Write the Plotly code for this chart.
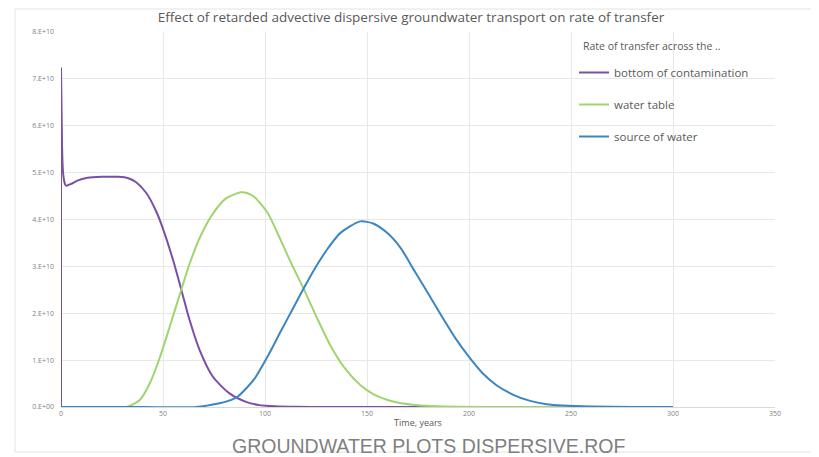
import plotly.graph_objects as go

# ---- data (rate of transfer, units of 1e10) ----
t_bottom = [0, 0, 0.5, 1, 2, 2.6, 5, 8, 13, 20, 28, 33, 37, 41.9, 46.7, 50, 54.9, 59.3, 63, 67.9,
            74.4, 82.6, 90.7, 97.2, 105, 115, 130, 160, 200, 250, 300]
v_bottom = [0, 7.24, 5.6, 5.0, 4.75, 4.72, 4.76, 4.83, 4.89, 4.91, 4.91, 4.88, 4.79, 4.56, 4.17, 3.8,
            3.14, 2.45, 1.86, 1.22, 0.65, 0.29, 0.11, 0.04, 0.015, 0.004, 0.0, 0.0, 0.0, 0.0, 0.0]

t_table = [0, 20, 32, 38.6, 43.5, 48.4, 53.2, 59.3, 63, 67.9, 74.4, 80.9, 88.3, 91.5, 94.8, 101.3, 107.8,
           112.7, 119.2, 125.7, 132.2, 138.7, 146.7, 153.3, 163.3, 172, 182, 195, 220, 260, 300]
v_table = [0, 0, 0, 0.15, 0.5, 1.05, 1.7, 2.55, 3.05, 3.6, 4.12, 4.45, 4.58, 4.56, 4.48, 4.14, 3.55,
           3.08, 2.5, 1.88, 1.3, 0.85, 0.47, 0.27, 0.11, 0.05, 0.02, 0.005, 0, 0, 0]

t_source = [0, 40, 66.3, 77.7, 82, 86.6, 94.8, 101.3, 107.8, 114.3, 119.2, 124.1, 130.6, 137.1, 146.7,
            153.3, 160, 166.7, 173.3, 180, 186.7, 193.3, 200, 206.7, 213.3, 221.7, 230, 238, 246,
            260, 280, 300]
v_source = [0, 0, 0, 0.08, 0.13, 0.22, 0.6, 1.08, 1.62, 2.15, 2.55, 2.93, 3.37, 3.72, 3.96,
            3.91, 3.71, 3.38, 2.9, 2.42, 1.93, 1.47, 1.07, 0.72, 0.47, 0.26, 0.13, 0.06, 0.03,
            0.01, 0.002, 0]

y_ticks = [0, 1, 2, 3, 4, 5, 6, 7, 8]
y_tick_text = ["0.E+00", "1.E+10", "2.E+10", "3.E+10", "4.E+10", "5.E+10", "6.E+10", "7.E+10", "8.E+10"]
x_ticks = [0, 50, 100, 150, 200, 250, 300, 350]

names = ["bottom of contamination", "water table", "source of water"]
colors = ["#7B4EA8", "#9ED56E", "#3A86C2"]

# page has an 8px body margin; figure pixel = page pixel - 8
W, H = 811, 449
L, R, T, B = 53, 44, 24, 50
PW, PH = W - L - R, H - T - B


def px(xpage):
    return (xpage - 8 - L) / PW


def py(ypage):
    return (H - B - (ypage - 8)) / PH


fig = go.Figure()
for i, (tt, vv) in enumerate([(t_bottom, v_bottom), (t_table, v_table), (t_source, v_source)]):
    fig.add_trace(go.Scatter(
        x=tt, y=vv, mode="lines", name=names[i], legendgroup=names[i],
        line=dict(color=colors[i], width=2, shape="spline", smoothing=0.7),
    ))

fig.update_layout(
    width=W, height=H,
    margin=dict(l=L, r=R, t=T, b=B),
    paper_bgcolor="white", plot_bgcolor="white",
    font=dict(family="Open Sans, Liberation Sans, sans-serif", color="#595959"),
    title=dict(text="Effect of retarded advective dispersive groundwater transport on rate of transfer",
               x=px(411), xanchor="center", xref="paper", y=1 - 9 / H, yanchor="middle",
               font=dict(size=13.5, color="#595959")),
    showlegend=True,
    legend=dict(
        x=px(574), y=py(58), xanchor="left", yanchor="top",
        bgcolor="rgba(255,255,255,0)", font=dict(size=11.5, color="#595959"),
        tracegroupgap=13, itemwidth=30,
    ),
    xaxis=dict(
        range=[0, 350], tickvals=x_ticks, ticktext=[str(v) for v in x_ticks],
        showgrid=True, gridcolor="#E8E8E8", gridwidth=1, zeroline=False,
        showline=True, linecolor="#D9D9D9", ticks="",
        tickfont=dict(size=7, color="#7F7F7F"),
        title=dict(text="Time, years", font=dict(size=9, color="#595959"), standoff=2),
    ),
    yaxis=dict(
        range=[0, 8], tickvals=y_ticks, ticktext=y_tick_text,
        showgrid=True, gridcolor="#E8E8E8", gridwidth=1, zeroline=False,
        showline=False, ticks="", tickfont=dict(size=7, color="#7F7F7F"),
        ticklabelstandoff=6,
    ),
)

# legend heading
fig.add_annotation(
    text="Rate of transfer across the ..", xref="paper", yref="paper",
    x=px(581), y=py(46), xanchor="left", yanchor="middle", showarrow=False,
    font=dict(size=10.5, color="#595959"),
)

fig.add_annotation(
    text="GROUNDWATER PLOTS DISPERSIVE.ROF", xref="paper", yref="paper",
    x=px(429), y=py(446), xanchor="center", yanchor="middle",
    showarrow=False, font=dict(family="Liberation Sans, Arial, sans-serif", size=19.5, color="#7F7F7F"),
)

# chart frame
fig.add_shape(type="rect", xref="paper", yref="paper",
              x0=px(15), x1=px(812), y0=py(452), y1=py(9),
              line=dict(color="#E3E3E3", width=1), fillcolor="rgba(0,0,0,0)", layer="below")

fig.write_html("out.html")
